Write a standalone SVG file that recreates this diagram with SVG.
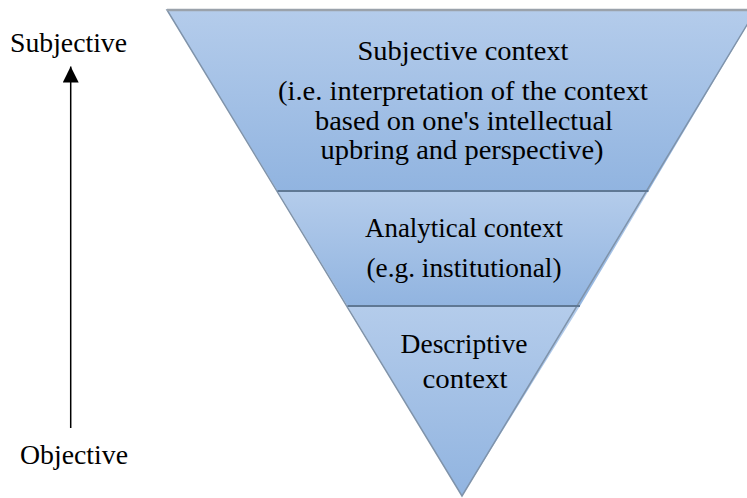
<svg xmlns="http://www.w3.org/2000/svg" width="747" height="498" viewBox="0 0 747 498">
<style>
text{font-family:'Liberation Serif',Tinos,'Times New Roman',Times,'DejaVu Serif',serif;font-size:27px;fill:#000}
.c{text-anchor:middle}
.band{stroke:none}
.div{stroke:#5f7894;stroke-width:2}
.edge{fill:none;stroke:#7f93aa;stroke-width:1.5}
</style>
<defs>
<linearGradient id="g1" x1="0" y1="10" x2="0" y2="191" gradientUnits="userSpaceOnUse"><stop offset="0" stop-color="#b4cceb"/><stop offset="1" stop-color="#91b4e0"/></linearGradient>
<linearGradient id="g2" x1="0" y1="191" x2="0" y2="306" gradientUnits="userSpaceOnUse"><stop offset="0" stop-color="#b4cceb"/><stop offset="1" stop-color="#91b4e0"/></linearGradient>
<linearGradient id="g3" x1="0" y1="306" x2="0" y2="496" gradientUnits="userSpaceOnUse"><stop offset="0" stop-color="#b4cceb"/><stop offset="1" stop-color="#91b4e0"/></linearGradient>
<marker id="ah" markerWidth="16" markerHeight="16" viewBox="0 0 16 16" refX="16" refY="8" orient="auto" markerUnits="userSpaceOnUse"><path d="M0,0L16,8L0,16Z" fill="#000"/></marker>
</defs>
<g id="connectors">
<line x1="70.7" y1="428" x2="70.7" y2="66.5" stroke="#000" stroke-width="1.5" marker-end="url(#ah)"/>
</g>
<g id="subjective-band">
<polygon class="band" points="167,10 756,10 648.5,191 277.5,191" fill="url(#g1)"/>
<text class="c" x="463" y="60" textLength="211" lengthAdjust="spacingAndGlyphs">Subjective context</text>
<text class="c" x="463" y="100" textLength="370" lengthAdjust="spacingAndGlyphs">(i.e. interpretation of the context</text>
<text class="c" x="464" y="130" textLength="298" lengthAdjust="spacingAndGlyphs">based on one's intellectual</text>
<text class="c" x="462" y="159" textLength="283" lengthAdjust="spacingAndGlyphs">upbring and perspective)</text>
</g>
<g id="analytical-band">
<polygon class="band" points="277.5,191 648.5,191 580,306 347.5,306" fill="url(#g2)"/>
<text class="c" x="464" y="237" textLength="198" lengthAdjust="spacingAndGlyphs">Analytical context</text>
<text class="c" x="464" y="277" textLength="195" lengthAdjust="spacingAndGlyphs">(e.g. institutional)</text>
</g>
<g id="descriptive-band">
<polygon class="band" points="347.5,306 580,306 462,496" fill="url(#g3)"/>
<text class="c" x="464" y="353" textLength="127" lengthAdjust="spacingAndGlyphs">Descriptive</text>
<text class="c" x="465" y="388" textLength="85" lengthAdjust="spacingAndGlyphs">context</text>
</g>
<g id="outline">
<polygon class="edge" points="167,10 756,10 462,496"/>
<line x1="167" y1="10" x2="756" y2="10" stroke="#9aa2ab" stroke-width="2.5"/>
<line class="div" x1="277.5" y1="191" x2="648.5" y2="191"/>
<line class="div" x1="347.5" y1="306" x2="580" y2="306"/>
</g>
<g id="label-subjective"><text x="10" y="52" textLength="117" lengthAdjust="spacingAndGlyphs">Subjective</text></g>
<g id="label-objective"><text x="20" y="464" textLength="108" lengthAdjust="spacingAndGlyphs">Objective</text></g>
</svg>
